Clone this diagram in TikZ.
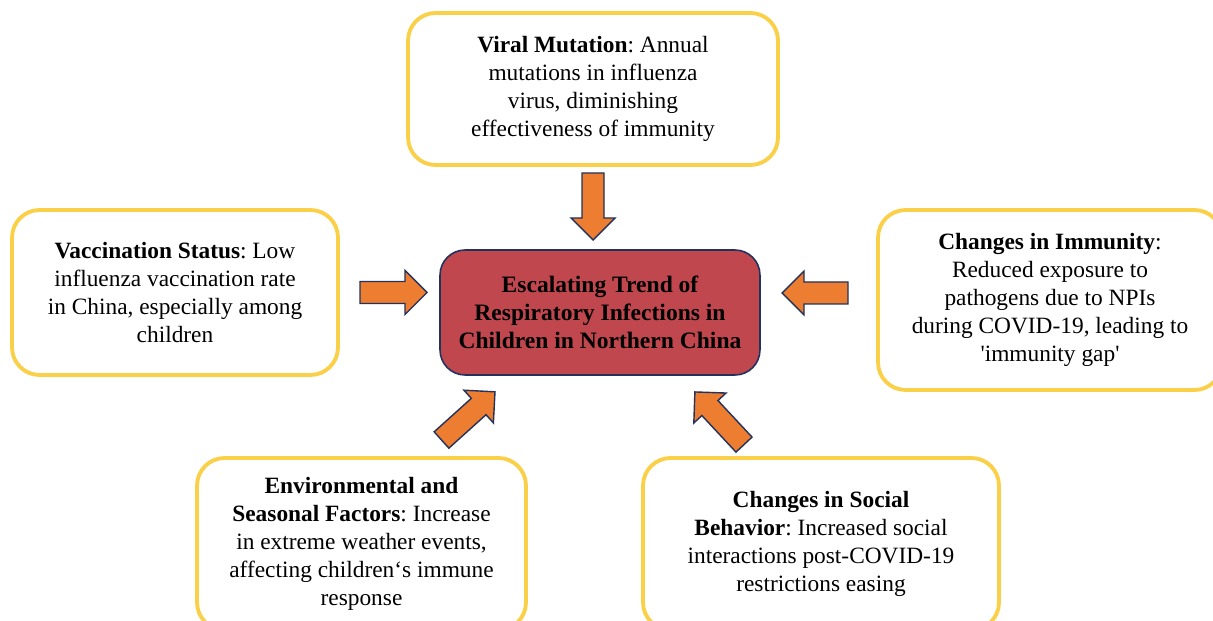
\documentclass[tikz,border=0pt]{standalone}
\usepackage{fontspec}
\setmainfont{Liberation Serif}
\frenchspacing
\definecolor{boxyellow}{RGB}{250,208,72}
\definecolor{corered}{RGB}{193,71,79}
\definecolor{navyline}{RGB}{34,50,92}
\definecolor{arroworange}{RGB}{237,125,49}
% block arrow: tail point, direction angle, total length
\newcommand\fatarrow[3]{%
  \draw[blockarrow, shift={#1}, rotate=#2]
    (0,-11) -- ({#3-22},-11) -- ({#3-22},-22) -- (#3,0)
    -- ({#3-22},22) -- ({#3-22},11) -- (0,11) -- cycle;}
\begin{document}
\begin{tikzpicture}[x=0.02cm,y=-0.02cm,
  factor/.style={draw=boxyellow, line width=2.2pt, rounded corners=0.55cm,
    fill=white, align=center, inner sep=0pt,
    font=\fontsize{13.3}{15.9}\selectfont},
  core/.style={draw=navyline, line width=0.9pt, fill=corered,
    rounded corners=0.5cm, align=center, inner sep=0pt,
    font=\bfseries\fontsize{13.4}{15.9}\selectfont},
  blockarrow/.style={draw=navyline, line width=0.8pt, fill=arroworange,
    line join=miter}]
\useasboundingbox (0,0) rectangle (1213,621);
\clip (0,0) rectangle (1213,621);

% central outcome
\node[core, minimum width=6.4cm, minimum height=2.5cm] (trend) at (600,312.5)
  {Escalating Trend of\\Respiratory Infections in\\Children in Northern China};

% contributing factors
\node[factor, minimum width=7.4cm, minimum height=3.04cm] (mutation) at (593,89)
  {\textbf{Viral Mutation}: Annual\\mutations in influenza\\virus, diminishing\\effectiveness of immunity};
\node[factor, minimum width=6.52cm, minimum height=3.3cm] (vaccine) at (175,292.5)
  {\textbf{Vaccination Status}: Low\\influenza vaccination rate\\in China, especially among\\children};
\node[factor, minimum width=6.88cm, minimum height=3.6cm] (immunity) at (1050,300)
  {\textbf{Changes in Immunity}:\\Reduced exposure to\\pathogens due to NPIs\\during COVID-19, leading to\\\textquotesingle immunity gap\textquotesingle};
\node[factor, minimum width=6.58cm, minimum height=3.44cm] (season) at (361.5,544)
  {\textbf{Environmental and}\\\textbf{Seasonal Factors}: Increase\\in extreme weather events,\\affecting children`s immune\\response};
\node[factor, minimum width=7.12cm, minimum height=3.44cm] (social) at (821,544)
  {\textbf{Changes in Social}\\\textbf{Behavior}: Increased social\\interactions post-COVID-19\\restrictions easing};

% arrows pointing at the outcome
\fatarrow{(593,173)}{-90}{67}
\fatarrow{(360,292.5)}{0}{67}
\fatarrow{(848,293)}{180}{66}
\fatarrow{(441.5,440)}{42}{72}
\fatarrow{(744,444.6)}{133}{72}
\end{tikzpicture}
\end{document}
